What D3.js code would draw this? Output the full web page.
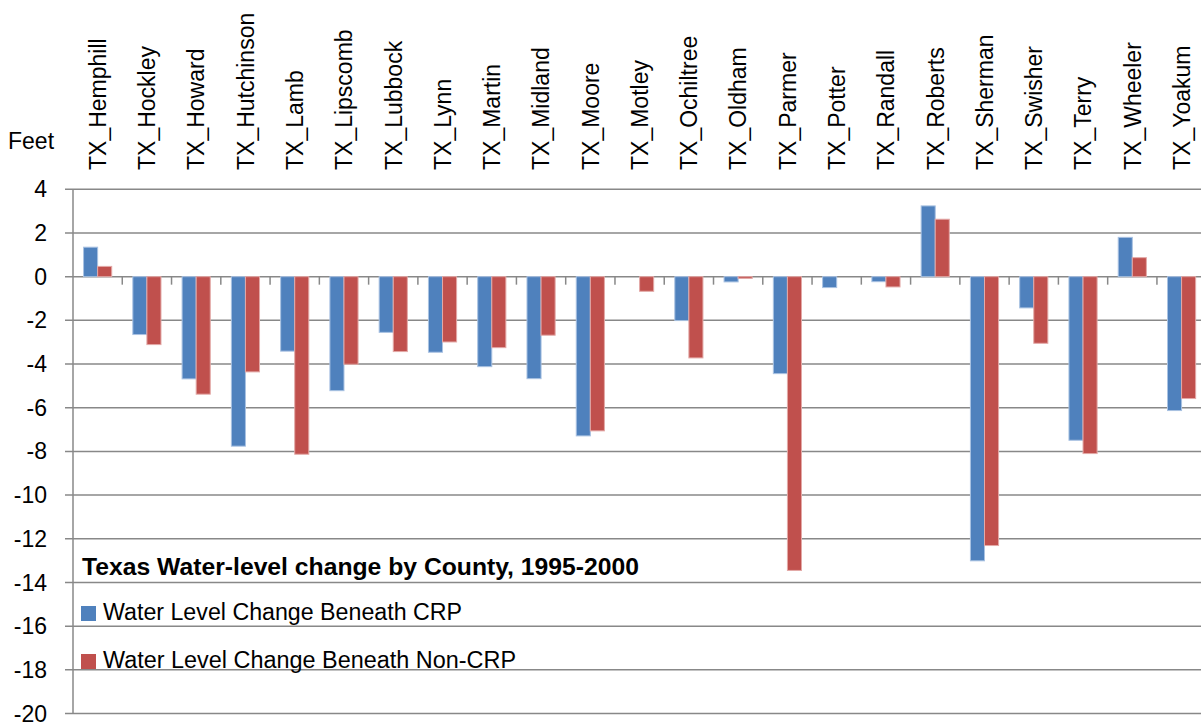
<!DOCTYPE html>
<html>
<head>
<meta charset="utf-8">
<script src="https://d3js.org/d3.v7.min.js"></script>
<style>
  body { margin: 0; background: #fff; }
  text { font-family: "Liberation Sans", Arial, sans-serif; fill: #000; }
</style>
</head>
<body>
<div id="chart"></div>
<script>
const counties = ["TX_Hemphill", "TX_Hockley", "TX_Howard", "TX_Hutchinson", "TX_Lamb",
  "TX_Lipscomb", "TX_Lubbock", "TX_Lynn", "TX_Martin", "TX_Midland", "TX_Moore",
  "TX_Motley", "TX_Ochiltree", "TX_Oldham", "TX_Parmer", "TX_Potter", "TX_Randall",
  "TX_Roberts", "TX_Sherman", "TX_Swisher", "TX_Terry", "TX_Wheeler", "TX_Yoakum"];

const crp = [1.35, -2.65, -4.68, -7.76, -3.41, -5.22, -2.55, -3.46, -4.12, -4.67, -7.29,
  null, -2.01, -0.24, -4.44, -0.5, -0.23, 3.24, -13.01, -1.43, -7.49, 1.8, -6.13];

const nonCrp = [0.47, -3.11, -5.38, -4.36, -8.13, -4.01, -3.43, -2.99, -3.25, -2.68, -7.06,
  -0.67, -3.72, -0.08, -13.45, null, -0.47, 2.63, -12.31, -3.05, -8.1, 0.87, -5.58];

const seriesNames = ["Water Level Change Beneath CRP", "Water Level Change Beneath Non-CRP"];
const seriesColors = ["#4F81BD", "#C0504D"];
const seriesStrokes = ["#a9c2e2", "#e3a9a7"];
const yTicks = d3.range(-20, 5, 2);
const title = "Texas Water-level change by County, 1995-2000";

const width = 1201, height = 725;
const left = 73, step = 49.27;

const svg = d3.select("#chart").append("svg")
  .attr("width", width)
  .attr("height", height);

const x0 = d3.scaleBand()
  .domain(counties)
  .range([left, left + step * counties.length])
  .padding(0);

const x1 = d3.scaleBand()
  .domain([0, 1])
  .range([0, x0.bandwidth()])
  .paddingInner(0)
  .paddingOuter(0.75);

const y = d3.scaleLinear()
  .domain([-20, 4])
  .range([713.5, 189.3]);

// gridlines
svg.append("g")
  .selectAll("line")
  .data(yTicks)
  .enter().append("line")
  .attr("x1", left - 8)
  .attr("x2", width)
  .attr("y1", d => y(d))
  .attr("y2", d => y(d))
  .attr("stroke", "#888")
  .attr("stroke-width", 1.5);

// y axis line
svg.append("line")
  .attr("x1", left).attr("x2", left)
  .attr("y1", y(4)).attr("y2", y(-20))
  .attr("stroke", "#888")
  .attr("stroke-width", 1.5);

// y tick labels
svg.append("g")
  .selectAll("text")
  .data(yTicks)
  .enter().append("text")
  .attr("x", 47)
  .attr("y", d => y(d))
  .attr("dy", "0.35em")
  .attr("text-anchor", "end")
  .style("font-size", "23px")
  .text(d => d);

// category ticks on zero line
svg.append("g")
  .selectAll("line")
  .data(counties.slice(1))
  .enter().append("line")
  .attr("x1", d => x0(d))
  .attr("x2", d => x0(d))
  .attr("y1", y(0))
  .attr("y2", y(0) + 8)
  .attr("stroke", "#888")
  .attr("stroke-width", 1.5);

// bars
const series = [crp, nonCrp];
series.forEach((vals, s) => {
  svg.append("g")
    .selectAll("rect")
    .data(counties.map((c, i) => ({ c, v: vals[i] })).filter(d => d.v !== null))
    .enter().append("rect")
    .attr("x", d => x0(d.c) + x1(s))
    .attr("width", x1.bandwidth())
    .attr("y", d => y(Math.max(0, d.v)))
    .attr("height", d => Math.abs(y(d.v) - y(0)))
    .attr("fill", seriesColors[s])
    .attr("stroke", seriesStrokes[s])
    .attr("stroke-width", 1);
});

// category labels (rotated, top)
svg.append("g")
  .selectAll("text")
  .data(counties)
  .enter().append("text")
  .attr("transform", d => `translate(${x0(d) + x0.bandwidth() / 2},170) rotate(-90)`)
  .attr("dy", "0.36em")
  .attr("text-anchor", "start")
  .style("font-size", "23px")
  .text(d => d);

// axis title
svg.append("text")
  .attr("x", 8)
  .attr("y", 149)
  .style("font-size", "23px")
  .text("Feet");

// chart title and legend
svg.append("text")
  .attr("x", 82)
  .attr("y", 575)
  .attr("textLength", 557)
  .attr("lengthAdjust", "spacingAndGlyphs")
  .style("font-size", "23px")
  .style("font-weight", "bold")
  .text(title);

const legendLengths = [359, 413];

const legend = svg.append("g")
  .selectAll("g")
  .data(seriesNames)
  .enter().append("g")
  .attr("transform", (d, i) => `translate(81,${606 + i * 48})`);

legend.append("rect")
  .attr("width", 15)
  .attr("height", 15)
  .attr("fill", (d, i) => seriesColors[i]);

legend.append("text")
  .attr("x", 22)
  .attr("y", 14)
  .attr("textLength", (d, i) => legendLengths[i])
  .attr("lengthAdjust", "spacingAndGlyphs")
  .style("font-size", "23px")
  .text(d => d);
</script>
</body>
</html>
